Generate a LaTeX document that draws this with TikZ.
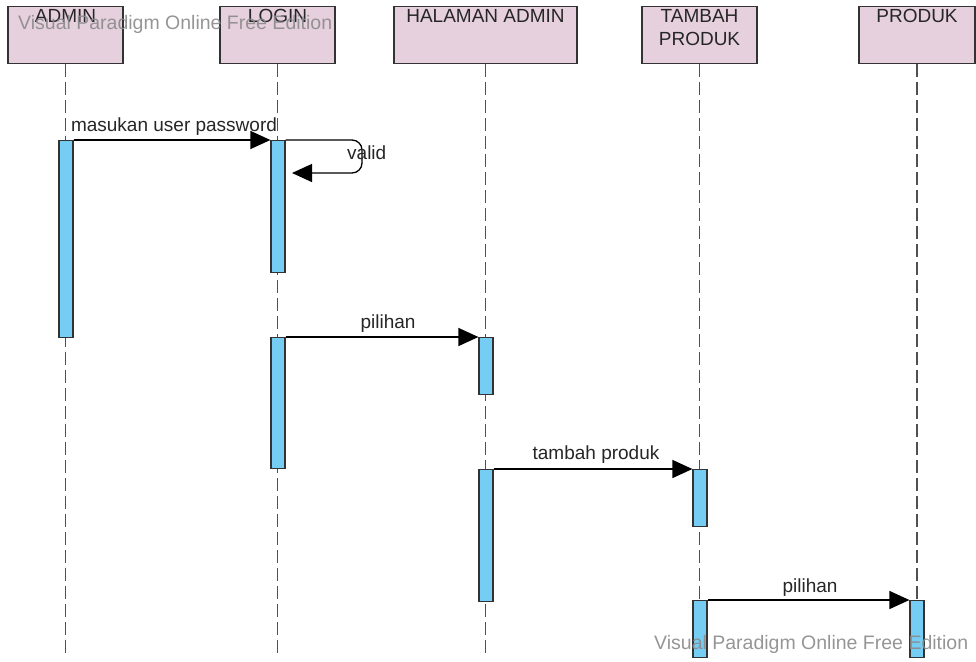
\documentclass[tikz,border=0pt]{standalone}
\usepackage{fontspec}
\setmainfont{Liberation Sans}
\usetikzlibrary{arrows.meta}
\definecolor{boxpink}{HTML}{E6D0DE}
\definecolor{barblue}{HTML}{76CDF3}
\definecolor{edge}{HTML}{333333}
\definecolor{lifegray}{HTML}{505050}
\definecolor{inkgray}{HTML}{262626}
\definecolor{wmark}{HTML}{8A8A8A}
\begin{document}
\begin{tikzpicture}[x=1pt,y=-1pt,
  txt/.style={font=\fontsize{19}{23}\selectfont, text=inkgray},
  header/.style={draw=edge, line width=1.4pt, fill=boxpink, minimum height=57pt,
    anchor=north, inner sep=0pt},
  headtext/.style={txt, anchor=north, align=center, inner sep=0pt},
  lifeline/.style={draw=lifegray, line width=1.4pt, dash pattern=on 13pt off 5pt},
  actbar/.style={draw=edge, line width=1.2pt, fill=barblue, minimum width=14pt,
    anchor=north, inner sep=0pt},
  msg/.style={draw=black, line width=1.3pt, -{Triangle[length=20pt,width=18pt]}},
  msglabel/.style={txt, inner sep=0pt},
  watermark/.style={font=\fontsize{19.5}{23}\selectfont, text=wmark, text opacity=0.9, inner sep=0pt}
]
\useasboundingbox (0,0) rectangle (976,661);

% participant heads
\node[header, minimum width=115pt] (admin) at (65.5,6) {};
\node[header, minimum width=115pt] (login) at (277.5,6) {};
\node[header, minimum width=183pt] (halaman) at (485.5,6) {};
\node[header, minimum width=115pt] (tambah) at (699.5,6) {};
\node[header, minimum width=116pt] (produk) at (917,6) {};

\node[headtext] (tadmin) at (65.5,9) {ADMIN};
\node[headtext] (tlogin) at (277.5,9) {LOGIN};
\node[headtext] (thalaman) at (485.5,9) {HALAMAN ADMIN};
\node[headtext] (ttambah) at (699.5,9) {TAMBAH\\PRODUK};
\node[headtext] (tproduk) at (917,9) {PRODUK};

% lifeline ends
\coordinate (adminEnd) at (65.5,657);
\coordinate (loginEnd) at (277.5,657);
\coordinate (halamanEnd) at (485.5,657);
\coordinate (tambahEnd) at (699.5,657);
\coordinate (produkEnd) at (917,657);

\draw[lifeline] (admin.south) -- (adminEnd);
\draw[lifeline] (login.south) -- (loginEnd);
\draw[lifeline] (halaman.south) -- (halamanEnd);
\draw[lifeline] (tambah.south) -- (tambahEnd);
\draw[lifeline] (produk.south) -- (produkEnd);

% activation bars
\node[actbar, minimum height=197pt] (adminA) at (66,140) {};
\node[actbar, minimum height=132pt] (loginA) at (278,140) {};
\node[actbar, minimum height=131pt] (loginB) at (278,337) {};
\node[actbar, minimum height=57pt] (halamanA) at (486,337) {};
\node[actbar, minimum height=132pt] (halamanB) at (486,469) {};
\node[actbar, minimum height=57pt] (tambahA) at (700,469) {};
\node[actbar, minimum height=57pt] (tambahB) at (700,600) {};
\node[actbar, minimum height=57pt] (produkA) at (917,600) {};

% messages
\draw[msg] (adminA.north east) -- (loginA.north west);
\node[msglabel, anchor=base] (m1) at (174,131) {masukan user password};

\coordinate (selfBack) at (292,173);
\draw[msg, rounded corners=10pt] (loginA.north east) -- (362,140) -- (362,173) -- (selfBack);
\node[msglabel, anchor=base west] (m2) at (347,159) {valid};

\draw[msg] (loginB.north east) -- (halamanA.north west);
\node[msglabel, anchor=base] (m3) at (388,328) {pilihan};

\draw[msg] (halamanB.north east) -- (tambahA.north west);
\node[msglabel, anchor=base] (m4) at (596,459) {tambah produk};

\draw[msg] (tambahB.north east) -- (produkA.north west);
\node[msglabel, anchor=base] (m5) at (810,592) {pilihan};

% edition marks
\node[watermark, anchor=west] (wm1) at (18,24) {Visual Paradigm Online Free Edition};
\node[watermark, anchor=west] (wm2) at (654,644) {Visual Paradigm Online Free Edition};
\end{tikzpicture}
\end{document}
